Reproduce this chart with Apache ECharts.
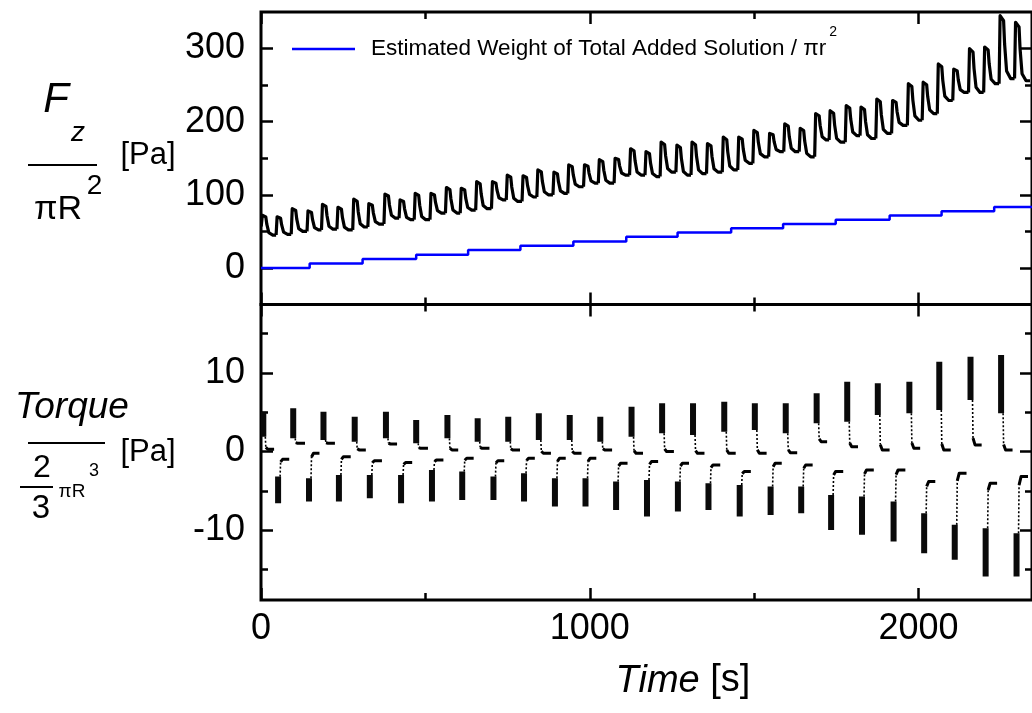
<!DOCTYPE html>
<html><head><meta charset="utf-8">
<script src="https://cdn.jsdelivr.net/npm/echarts@6/dist/echarts.min.js"></script>
<style>html,body{margin:0;padding:0;background:#fff}#c{width:1032px;height:713px}</style>
</head><body><div id="c"></div>
<script>
// ---- data ----
// times (s) of the loading events (each event = spike in Fz and a torque burst)
const eventTimes = [7, 52, 98, 146, 190, 237, 285, 331, 380, 426,
  472, 520, 567, 612, 659, 707, 752, 800, 845, 894,
  939, 987, 1032, 1080, 1127, 1174, 1220, 1268, 1314, 1361,
  1409, 1456, 1502, 1550, 1596, 1643, 1690, 1734, 1783, 1828,
  1876, 1924, 1972, 2017, 2063, 2110, 2158, 2204, 2251, 2298];
// Fz / piR^2 [Pa]: value at start, spike peak per event, plateau after each event
const fzStart = 58;
const fzPeak = [72, 70, 81, 78, 87, 83, 94, 88, 101, 93,
  102, 102, 110, 109, 118, 118, 127, 126, 134, 131,
  141, 141, 148, 150, 163, 159, 172, 168, 172, 170,
  179, 179, 188, 184, 197, 191, 211, 215, 222, 220,
  231, 229, 252, 254, 279, 272, 300, 302, 345, 336];
const fzPlateau = [45, 46, 50, 52, 53, 52, 56, 60, 68, 66,
  66, 75, 75, 79, 81, 93, 91, 97, 100, 102,
  111, 116, 116, 127, 127, 125, 131, 127, 129, 131,
  134, 143, 152, 159, 159, 152, 175, 172, 181, 177,
  184, 195, 202, 211, 229, 240, 240, 252, 259, 256];
// Torque / (2/3 piR^3) [Pa]: dense band upper / lower value, plateau after the band
const tqHigh = [5.06, -3.2, 5.49, -3.41, 5.06, -2.99, 4.43, -2.99, 5.06, -2.99,
  4.0, -2.35, 4.64, -2.56, 4.22, -3.2, 4.43, -2.77, 4.85, -3.41,
  4.64, -3.41, 4.43, -3.83, 5.7, -3.62, 6.12, -3.83, 6.12, -4.05,
  6.33, -4.26, 6.12, -4.47, 6.12, -4.47, 7.4, -5.53, 8.88, -5.74,
  8.67, -6.38, 8.88, -7.86, 11.42, -9.34, 12.05, -9.77, 12.27, -10.4];
const tqLow = [1.88, -6.59, 1.67, -6.38, 1.46, -6.38, 1.25, -5.95, 1.67, -6.59,
  1.04, -6.38, 1.67, -6.17, 1.25, -6.17, 1.25, -6.38, 1.46, -7.01,
  1.46, -7.01, 1.25, -7.44, 1.88, -8.28, 2.31, -7.65, 2.1, -7.44,
  2.52, -8.28, 2.73, -8.07, 2.31, -7.86, 3.58, -9.98, 3.79, -10.6,
  4.64, -11.46, 4.85, -12.94, 5.28, -13.79, 6.55, -15.9, 4.85, -15.9];
const tqPlateau = [0.28, -1.0, 1.04, -0.23, 1.04, -0.66, 0.2, -1.17, 0.95, -1.42,
  0.4, -1.08, 0.19, -0.87, 0.4, -1.17, 0.19, -0.87, -0.23, -0.87,
  -0.23, -0.87, 0.19, -1.5, -0.23, -1.29, -0.02, -1.5, -0.23, -1.72,
  -0.23, -2.56, -0.23, -1.5, -0.15, -1.72, 1.25, -2.56, 0.61, -2.35,
  0.19, -2.35, 0.4, -3.83, 0.19, -2.77, 0.83, -4.05, 0.19, -3.2];
// estimated weight of added solution / pi r^2 [Pa]: step times and levels
const stepTimes = [0, 148, 309, 472, 630, 789, 950, 1111, 1267, 1430, 1588, 1748, 1912, 2070, 2230, 2345];
const stepValues = [0, 6, 12.2, 18.2, 24.4, 30.3, 36.3, 42.5, 48.5, 54.3, 60.1, 65.8, 71.6, 77.4, 83.3, 83.3];
// axis ticks
const timeTicks = [0, 1000, 2000];
const fzMajor = [0, 100, 200, 300];
const fzMinor = [50, 150, 250];
const tqMajor = [-10, 0, 10];
const tqMinor = [-15, -5, 5, 15];
const LEGEND_NAME = 'Estimated Weight of Total Added Solution / \u03c0r\u00b2';

const X_MAX = 2345;
const FONT = '"Liberation Sans", Arial, sans-serif';

function fzItem(params, api) {
  const i = params.dataIndex;
  const t = api.value(0), peak = api.value(1), plat = api.value(2);
  const prev = i > 0 ? fzPlateau[i - 1] : fzStart;
  const tNext = i + 1 < eventTimes.length ? eventTimes[i + 1] : X_MAX;
  const p0 = api.coord([t, prev]);
  const x0 = p0[0], yPrev = p0[1];
  const yPeak = api.coord([t, peak])[1];
  const yPlat = api.coord([t, plat])[1];
  const xN = api.coord([tNext, plat])[0];
  const d = yPlat - yPeak;
  const pts = [];
  if (i === 0) pts.push([api.coord([0, prev])[0], yPrev]);
  pts.push([x0 - 2, yPrev], [x0 - 1, yPeak], [x0 + 2.5, yPeak + 0.08 * d], [x0 + 3.5, yPeak + 0.45 * d],
    [x0 + 5.5, yPlat - 0.12 * d], [x0 + 9.5, yPlat], [xN - 2, yPlat]);
  return {type: 'polyline', shape: {points: pts},
    style: {stroke: '#000', lineWidth: 3.2, fill: 'none', lineJoin: 'round'}};
}

function tqItem(params, api) {
  const i = params.dataIndex;
  const t = api.value(0), hi = api.value(1), lo = api.value(2), plat = api.value(3);
  const tNext = i + 1 < eventTimes.length ? eventTimes[i + 1] : X_MAX;
  const xc = api.coord([t, 0])[0];
  const yHi = api.coord([t, hi])[1], yLo = api.coord([t, lo])[1], yPlat = api.coord([t, plat])[1];
  const xN = api.coord([tNext, 0])[0];
  const yNear = hi > 0 ? yLo : yHi;
  const w = 6;
  const yBend = yPlat + (yNear - yPlat) * 0.15;
  return {type: 'group', children: [
    {type: 'rect', shape: {x: xc - w / 2, y: Math.min(yHi, yLo), width: w, height: Math.abs(yLo - yHi)},
      style: {fill: '#0a0a0a'}},
    {type: 'line', shape: {x1: xc + w / 2 - 1, y1: yNear, x2: xc + w / 2 - 0.5, y2: yBend},
      style: {stroke: '#000', lineWidth: 1.6, lineDash: [2, 2]}},
    {type: 'polyline', shape: {points: [[xc + w / 2 - 0.5, yBend], [xc + w / 2 + 1.5, yPlat], [xN - w / 2 - 1, yPlat]]},
      style: {stroke: '#000', lineWidth: 3, fill: 'none', lineJoin: 'round'}}
  ]};
}

function xAx(grid, pos, labels) {
  return {
    type: 'value', gridIndex: grid, position: pos, min: 0, max: X_MAX, interval: 1000,
    axisLine: {show: false, onZero: false}, splitLine: {show: false},
    axisTick: {show: true, inside: true, length: 12, lineStyle: {color: '#000', width: 2.5}},
    minorTick: {show: true, splitNumber: 2, length: 7, lineStyle: {color: '#000', width: 2.5}},
    minorSplitLine: {show: false},
    axisLabel: {show: labels, showMaxLabel: false, color: '#000', fontSize: 36, fontFamily: FONT, margin: 11,
      formatter: v => (timeTicks.indexOf(v) >= 0 ? String(v) : '')}
  };
}
function yAx(grid, pos, min, max, ticks, len, labels) {
  return {
    type: 'value', gridIndex: grid, position: pos, min: min, max: max,
    axisLine: {show: false, onZero: false}, splitLine: {show: false},
    axisTick: {show: true, inside: true, length: len, customValues: ticks, lineStyle: {color: '#000', width: 2.5}},
    axisLabel: {show: labels, customValues: ticks, color: '#000', fontSize: 36, fontFamily: FONT, margin: 16}
  };
}

function txt(str, x, y, size, italic) {
  return {type: 'text', x: x, y: y, silent: true,
    style: {text: str, fontSize: size, fontFamily: FONT, fontStyle: italic ? 'italic' : 'normal',
      fill: '#000', align: 'center', verticalAlign: 'middle'}};
}
function hbar(x1, x2, y, w) {
  return {type: 'line', silent: true, shape: {x1: x1, y1: y, x2: x2, y2: y}, style: {stroke: '#000', lineWidth: w}};
}

const chart = echarts.init(document.getElementById('c'), null, {renderer: 'canvas'});
chart.setOption({
  animation: false,
  backgroundColor: '#fff',
  grid: [
    {left: 261, top: 12, width: 773, height: 292.5, show: true, borderWidth: 3, borderColor: '#000', backgroundColor: 'transparent'},
    {left: 261, top: 304.5, width: 773, height: 295.5, show: true, borderWidth: 3, borderColor: '#000', backgroundColor: 'transparent'}
  ],
  xAxis: [xAx(0, 'bottom', false), xAx(0, 'top', false), xAx(1, 'bottom', true), xAx(1, 'top', false)],
  yAxis: [
    yAx(0, 'left', -50, 350, fzMajor, 12, true),
    yAx(0, 'left', -50, 350, fzMinor, 7, false),
    yAx(0, 'right', -50, 350, fzMajor, 12, false),
    yAx(0, 'right', -50, 350, fzMinor, 7, false),
    yAx(1, 'left', -18.9, 18.7, tqMajor, 12, true),
    yAx(1, 'left', -18.9, 18.7, tqMinor, 7, false),
    yAx(1, 'right', -18.9, 18.7, tqMajor, 12, false),
    yAx(1, 'right', -18.9, 18.7, tqMinor, 7, false)
  ],
  legend: {
    data: [{name: LEGEND_NAME, icon: 'rect'}], left: 287, top: 20, itemWidth: 63, itemHeight: 2.5, itemGap: 10,
    formatter: () => 'Estimated Weight of Total Added Solution / \u03c0r{sup|2}',
    textStyle: {color: '#000', fontSize: 22.5, fontFamily: FONT, lineHeight: 48, padding: [0, 0, 0, 11],
      rich: {sup: {fontSize: 14, fontFamily: FONT, color: '#000', verticalAlign: 'top', lineHeight: 14, padding: [0, 0, 0, 3]}}}
  },
  series: [
    {type: 'custom', name: 'Fz', xAxisIndex: 0, yAxisIndex: 0, clip: true, renderItem: fzItem,
      encode: {x: 0, y: [1, 2]},
      data: eventTimes.map((t, i) => [t, fzPeak[i], fzPlateau[i]])},
    {type: 'line', name: LEGEND_NAME, xAxisIndex: 0, yAxisIndex: 0, step: 'end', symbol: 'none',
      color: '#0000ff', lineStyle: {color: '#0000ff', width: 2.5},
      data: stepTimes.map((t, i) => [t, stepValues[i]])},
    {type: 'custom', name: 'Torque', xAxisIndex: 2, yAxisIndex: 4, clip: true, renderItem: tqItem,
      encode: {x: 0, y: [1, 2, 3]},
      data: eventTimes.map((t, i) => [t, tqHigh[i], tqLow[i], tqPlateau[i]])}
  ],
  graphic: [
    txt('F', 56, 100, 42, true),
    txt('z', 78, 133, 28, true),
    hbar(28, 97, 165, 2),
    txt('\u03c0R', 58, 210, 34, false),
    txt('2', 94.5, 186, 28, false),
    txt('[Pa]', 148, 155, 31, false),
    txt('Torque', 72, 408, 37, true),
    hbar(28, 105, 443, 2),
    txt('[Pa]', 148, 452, 31, false),
    txt('2', 42, 468, 32, false),
    hbar(20, 53, 487, 2),
    txt('3', 41, 509, 33, false),
    txt('\u03c0R', 72, 492, 19, false),
    txt('3', 94, 471, 18, false),
    {type: 'text', x: 683, y: 681, silent: true,
      style: {text: '{i|Time} [s]', fontSize: 38, fontFamily: FONT, fill: '#000', align: 'center', verticalAlign: 'middle',
        rich: {i: {fontSize: 38, fontFamily: FONT, fontStyle: 'italic', fill: '#000'}}}}
  ]
});
</script>
</body></html>
